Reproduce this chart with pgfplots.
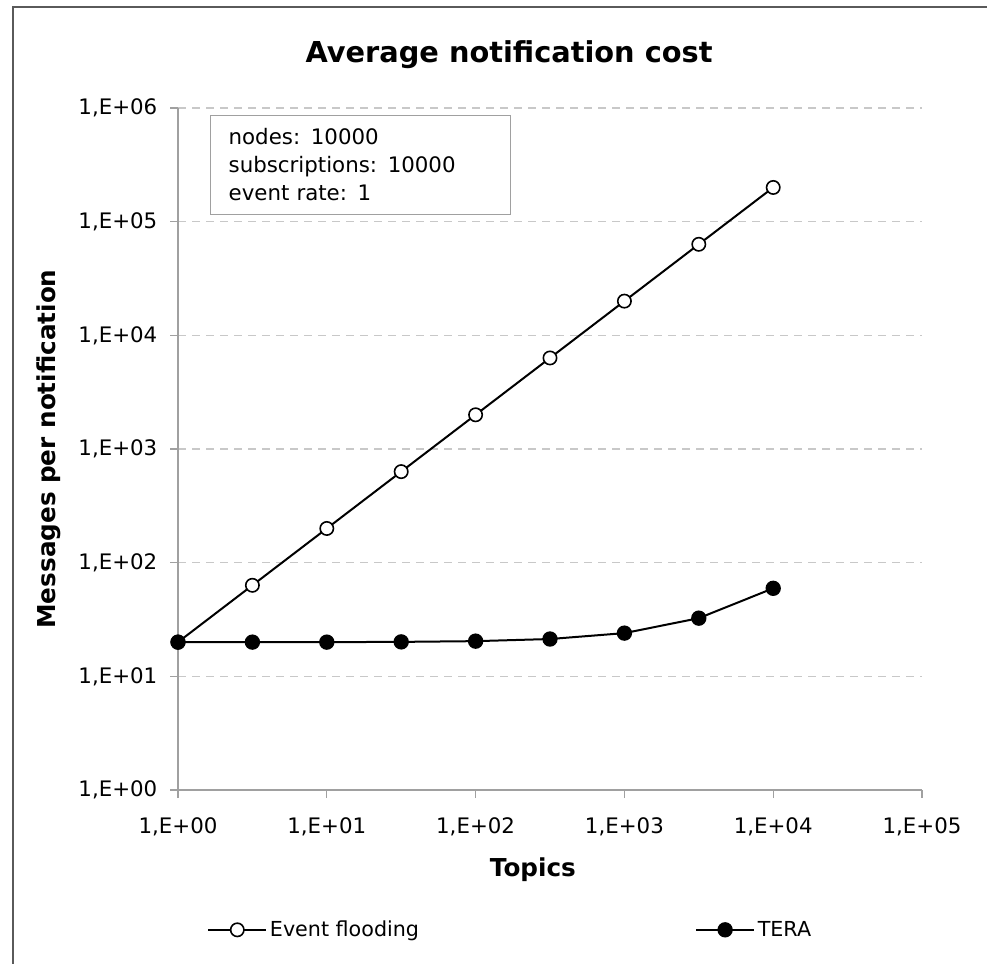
\documentclass[border=0pt]{standalone}
\usepackage{pgfplots}
\pgfplotsset{compat=1.18}
\usepackage{fontspec}
\setmainfont{DejaVu Sans}
\definecolor{axisgray}{HTML}{A0A0A0}
\definecolor{gridgray}{HTML}{C8C8C8}
\definecolor{framegray}{HTML}{5A5A5A}
\definecolor{boxgray}{HTML}{A0A0A0}
\begin{document}
\begin{tikzpicture}
\useasboundingbox (0pt,0pt) rectangle (740.25pt,-722.25pt);
\draw[color=framegray, line width=1.6pt] (9.75pt,-800pt) -- (9.75pt,-5.25pt) -- (800pt,-5.25pt);
\begin{axis}[
  at={(133.5pt,-592.5pt)}, anchor=south west,
  scale only axis, width=558pt, height=511.5pt,
  xmode=log, ymode=log,
  xmin=1, xmax=1e5, ymin=1, ymax=1e6,
  axis x line*=bottom, axis y line*=left,
  axis line style={color=axisgray, line width=1pt},
  tick style={color=axisgray, line width=1pt},
  tick align=outside, major tick length=6pt,
  xminorticks=false, yminorticks=false,
  xtick={1,10,100,1000,10000,100000},
  xticklabels={{1,E+00},{1,E+01},{1,E+02},{1,E+03},{1,E+04},{1,E+05}},
  ytick={1,10,100,1000,10000,100000,1000000},
  yticklabels={{1,E+00},{1,E+01},{1,E+02},{1,E+03},{1,E+04},{1,E+05},{1,E+06}},
  ticklabel style={font=\fontsize{16}{19}\selectfont, text=black},
  xticklabel style={yshift=-11pt},
  yticklabel style={xshift=-6pt},
  ymajorgrids,
  major grid style={color=gridgray, line width=1pt, dash pattern=on 6pt off 4.5pt},
  clip=false,
  title={Average notification cost},
  title style={font=\bfseries\fontsize{21.6}{26}\selectfont, at={(axis description cs:0.445,1.066)}, anchor=center},
  xlabel={Topics},
  xlabel style={font=\bfseries\fontsize{18.5}{22}\selectfont, at={(axis description cs:0.477,-0.117)}, anchor=center},
  ylabel={Messages per notification},
  ylabel style={font=\bfseries\fontsize{18.5}{22}\selectfont, at={(axis description cs:-0.1734,0.5)}, anchor=center},
  legend columns=2,
  legend style={at={(axis description cs:0.039,-0.205)}, anchor=west, draw=none, fill=none,
    font=\fontsize{15.5}{18}\selectfont, inner sep=0pt,
    /tikz/every even column/.append style={column sep=205pt}},
  legend image code/.code={\draw[mark repeat=2,mark phase=2] plot coordinates {(0pt,0pt) (21.75pt,0pt) (43.5pt,0pt)};},
]
\addplot[black, line width=1.5pt, mark=*, mark size=5pt, mark options={fill=white, draw=black, line width=1.2pt}]
  coordinates {(1,20)(3.1623,63.25)(10,200)(31.623,632.5)(100,2000)(316.23,6325)(1000,20000)(3162.3,63250)(10000,200000)};
\addlegendentry{Event flooding}
\addplot[black, line width=1.5pt, mark=*, mark size=5pt, mark options={fill=black, draw=black}]
  coordinates {(1,20)(3.1623,20)(10,20)(31.623,20.1)(100,20.4)(316.23,21.3)(1000,24)(3162.3,32.5)(10000,59.5)};
\addlegendentry{TERA}
\node[draw=boxgray, line width=1pt, anchor=north west, minimum width=225pt, minimum height=74pt,
  text width=198pt, align=left, inner xsep=13.5pt, font=\fontsize{16}{21}\selectfont]
  at (axis description cs:0.043,0.9897) {nodes: 10000\\subscriptions: 10000\\event rate: 1};
\end{axis}
\end{tikzpicture}
\end{document}
